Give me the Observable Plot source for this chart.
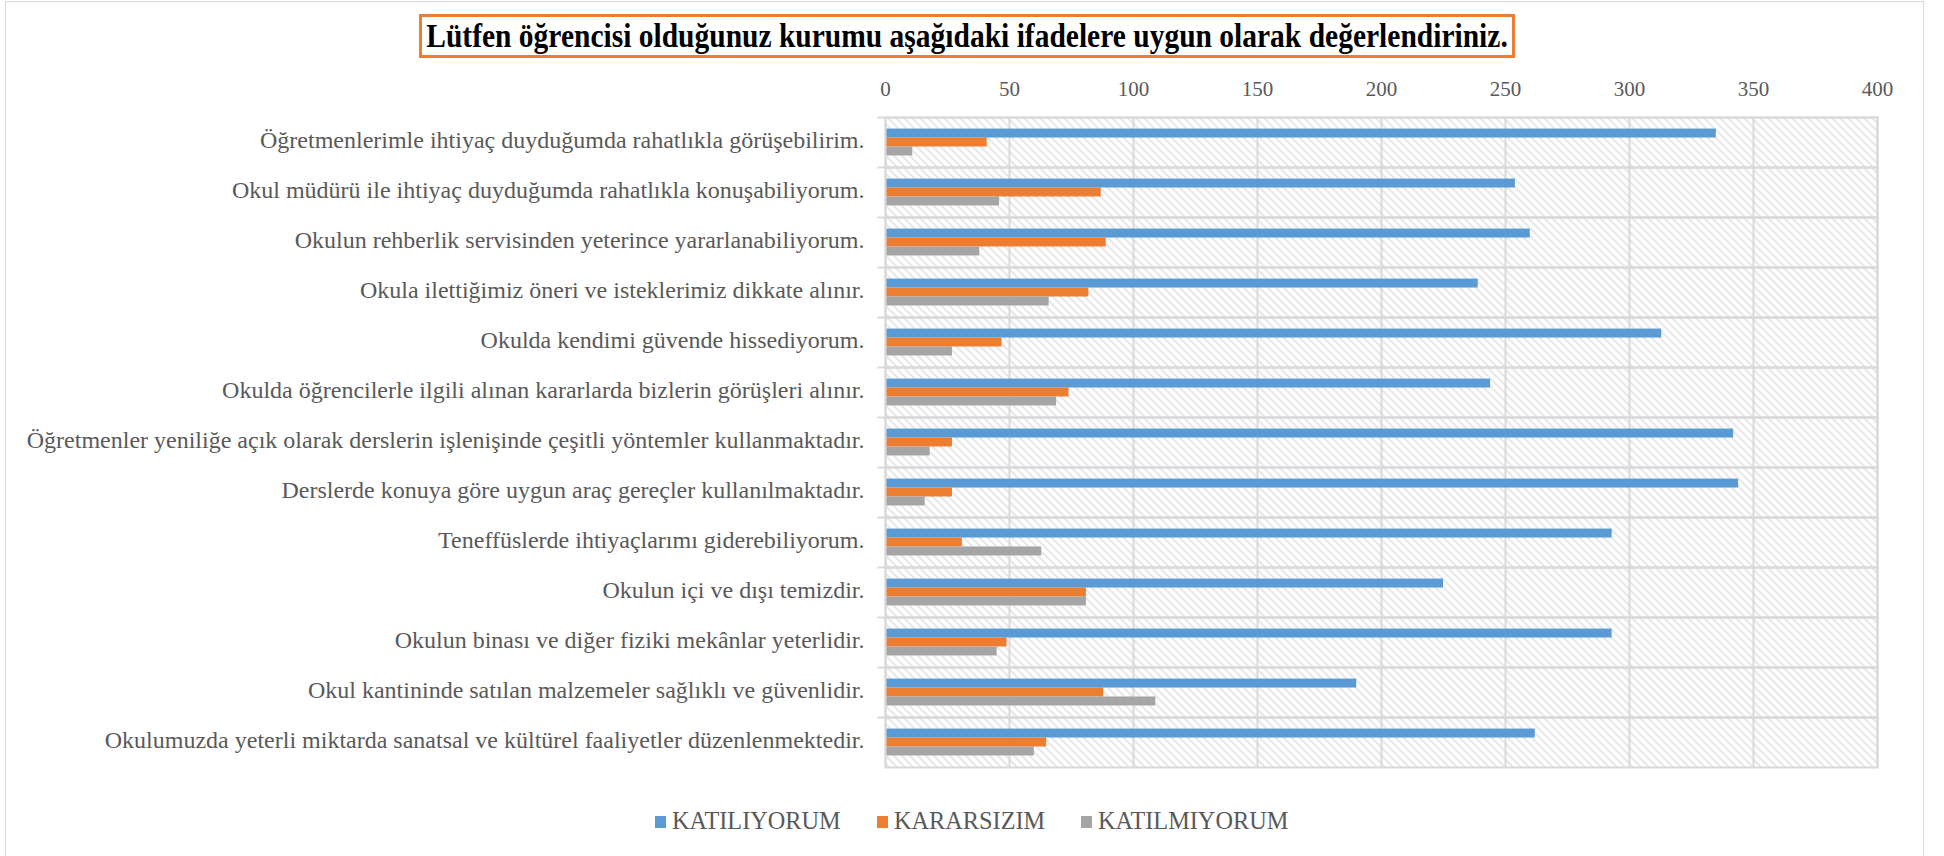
<!DOCTYPE html>
<html>
<head>
<meta charset="utf-8">
<script src="https://cdn.jsdelivr.net/npm/d3@7"></script>
<script src="https://cdn.jsdelivr.net/npm/@observablehq/plot@0.6"></script>
<style>
  html, body { margin: 0; padding: 0; background: #fff; }
  body { width: 1944px; height: 856px; position: relative; overflow: hidden; font-family: "Liberation Serif", "DejaVu Serif", serif; }
  #border { position: absolute; left: 5px; top: 1px; width: 1919px; height: 870px; border: 1px solid #d9d9d9; box-sizing: border-box; }
  #title { position: absolute; left: 419px; top: 14px; width: 1096px; height: 44px; border: 3px solid #ED7D31; box-sizing: border-box;
           font-weight: bold; font-size: 29.5px; color: #000; text-align: center; line-height: 38px; white-space: nowrap; }
  #title span { display: inline-block; transform: scaleY(1.12); }
  #chart { position: absolute; left: 0; top: 60px; }
  #legend { position: absolute; top: 806px; left: 0; width: 1944px; height: 30px; }
  .item { position: absolute; top: 0; font-size: 24.3px; color: #595959; line-height: 30px; white-space: nowrap; }
  .sw { display: inline-block; width: 11px; height: 12px; margin-right: 6px; vertical-align: 1px; }
</style>
</head>
<body>
<div id="border"></div>
<div id="title"><span>Lütfen öğrencisi olduğunuz kurumu aşağıdaki ifadelere uygun olarak değerlendiriniz.</span></div>
<div id="chart"></div>
<div id="legend"></div>
<script>
const categories = [
  "Öğretmenlerimle ihtiyaç duyduğumda rahatlıkla görüşebilirim.",
  "Okul müdürü ile ihtiyaç duyduğumda rahatlıkla konuşabiliyorum.",
  "Okulun rehberlik servisinden yeterince yararlanabiliyorum.",
  "Okula ilettiğimiz öneri ve isteklerimiz dikkate alınır.",
  "Okulda kendimi güvende hissediyorum.",
  "Okulda öğrencilerle ilgili alınan kararlarda bizlerin görüşleri alınır.",
  "Öğretmenler yeniliğe açık olarak derslerin işlenişinde çeşitli yöntemler kullanmaktadır.",
  "Derslerde konuya göre uygun araç gereçler kullanılmaktadır.",
  "Teneffüslerde ihtiyaçlarımı giderebiliyorum.",
  "Okulun içi ve dışı temizdir.",
  "Okulun binası ve diğer fiziki mekânlar yeterlidir.",
  "Okul kantininde satılan malzemeler sağlıklı ve güvenlidir.",
  "Okulumuzda yeterli miktarda sanatsal ve kültürel faaliyetler düzenlenmektedir."
];
const series = ["KATILIYORUM", "KARARSIZIM", "KATILMIYORUM"];
const katiliyorum  = [335, 254, 260, 239, 313, 244, 342, 344, 293, 225, 293, 190, 262];
const kararsizim   = [ 41,  87,  89,  82,  47,  74,  27,  27,  31,  81,  49,  88,  65];
const katilmiyorum = [ 11,  46,  38,  66,  27,  69,  18,  16,  63,  81,  45, 109,  60];
const colors = ["#5B9BD5", "#ED7D31", "#A5A5A5"];
const xTicks = [0, 50, 100, 150, 200, 250, 300, 350, 400];

const valuesBySeries = [katiliyorum, kararsizim, katilmiyorum];
const data = [];
categories.forEach((c, i) => {
  series.forEach((s, j) => data.push({cat: c, series: s, value: valuesBySeries[j][i]}));
});

const grid = "#d9d9d9";
const chart = Plot.plot({
  width: 1944,
  height: 730,
  marginLeft: 885,
  marginRight: 67,
  marginTop: 55,
  marginBottom: 21,
  style: {fontFamily: "Liberation Serif", background: "transparent", color: "#595959"},
  x: {domain: [0, 400], axis: null},
  fy: {domain: categories, padding: 0, axis: null},
  y: {domain: series, paddingInner: 0, paddingOuter: 1.29, axis: null, round: false},
  color: {domain: series, range: colors},
  marks: [
    Plot.frame({fill: "url(#hatch)", stroke: null}),
    Plot.gridX(xTicks, {stroke: grid, strokeOpacity: 1, strokeWidth: 2}),
    Plot.barX(data, {x: "value", y: "series", fy: "cat", fill: "series"}),
    Plot.frame({stroke: grid, strokeWidth: 2}),
    Plot.frame({anchor: "top", insetLeft: -7, stroke: grid, strokeWidth: 2}),
    Plot.axisX(xTicks, {anchor: "top", tickSize: 0, tickPadding: 22, fontSize: 21, fill: "#595959", label: null}),
    Plot.axisFy({anchor: "left", tickSize: 0, tickPadding: 21, fontSize: 24, fill: "#595959", label: null, dy: -2})
  ]
});
const ns = "http://www.w3.org/2000/svg";
const defs = document.createElementNS(ns, "defs");
defs.innerHTML = '<pattern id="hatch" width="8" height="8" patternUnits="userSpaceOnUse">' +
  '<rect width="8" height="8" fill="#ffffff"/>' +
  '<path d="M0,0 L8,8 M-1,7 L1,9 M7,-1 L9,1" stroke="#dcdcdc" stroke-width="1.4"/></pattern>';
chart.insertBefore(defs, chart.firstChild);
document.getElementById("chart").appendChild(chart);

const legend = document.getElementById("legend");
const lefts = [655, 877, 1081];
series.forEach((s, i) => {
  const d = document.createElement("div");
  d.className = "item";
  d.style.left = lefts[i] + "px";
  d.innerHTML = '<span class="sw" style="background:' + colors[i] + '"></span>' + s;
  legend.appendChild(d);
});
</script>
</body>
</html>
